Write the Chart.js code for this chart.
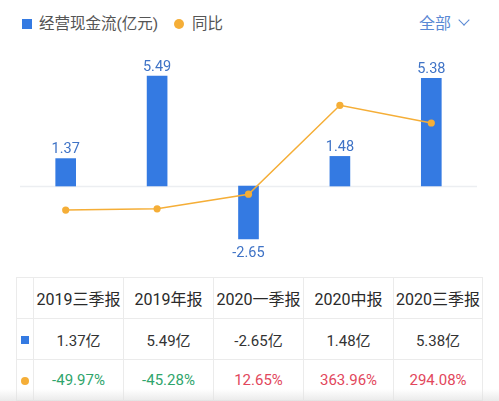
<!DOCTYPE html>
<html>
<head>
<meta charset="utf-8">
<script src="https://cdn.jsdelivr.net/npm/chart.js@4/dist/chart.umd.min.js"></script>
<style>
  html, body { margin: 0; padding: 0; background: #fff; }
  body { width: 499px; height: 401px; overflow: hidden; position: relative;
         font-family: Roboto, "Noto Sans CJK SC", sans-serif; }
  .abs { position: absolute; }
  #legSq { left: 22px; top: 19px; width: 10px; height: 10px; background: #347ae2; }
  #legT1 { left: 39px; top: 14px; font-size: 15.5px; line-height: 20px; color: #555; }
  #legDot { left: 174px; top: 19px; width: 10px; height: 10px; border-radius: 50%; background: #f5ae37; }
  #legT2 { left: 192px; top: 14px; font-size: 15.5px; line-height: 20px; color: #555; }
  #all { left: 419px; top: 13px; font-size: 16px; line-height: 22px; color: #5a89d4; }
  #chev { left: 460px; top: 16px; width: 7px; height: 7px; border-right: 1.6px solid #5a89d4;
          border-bottom: 1.6px solid #5a89d4; transform: rotate(45deg); }
  #chartBox { left: 0; top: 40px; width: 499px; height: 230px; }
  table { position: absolute; left: 16px; top: 277px; border-collapse: collapse; table-layout: fixed; }
  td { border: 1px solid #ebebeb; height: 40px; padding: 0; text-align: center; font-size: 15px; color: #333;
       white-space: nowrap; }
  tr.hd td { font-size: 16px; color: #2a2a2a; }
  .mk { display: inline-block; vertical-align: middle; }
  .up { color: #e2475c; }
  .down { color: #2fa56c; }
  #shade { left: 0; top: 389px; width: 499px; height: 12px;
           background: linear-gradient(rgba(240,240,240,0), rgba(225,225,225,0.7)); }
</style>
</head>
<body>
<div class="abs" id="legSq"></div>
<div class="abs" id="legT1">经营现金流(亿元)</div>
<div class="abs" id="legDot"></div>
<div class="abs" id="legT2">同比</div>
<div class="abs" id="all">全部</div>
<div class="abs" id="chev"></div>
<div class="abs" id="chartBox"><canvas id="c" width="499" height="230"></canvas></div>
<table id="tbl"></table>
<div class="abs" id="shade"></div>
<script>
const categories = ["2019三季报", "2019年报", "2020一季报", "2020中报", "2020三季报"];
const cashFlow = [1.37, 5.49, -2.65, 1.48, 5.38];
const yoy = [-49.97, -45.28, 12.65, 363.96, 294.08];
const cashFlowUnit = "亿";

const BAR_COLOR = "#347ae2";
const LINE_COLOR = "#f5ae37";

// table
(function () {
  const tbl = document.getElementById("tbl");
  const widths = [17, 90, 90, 90, 90, 89];
  let html = "<colgroup>" + widths.map(w => `<col style="width:${w}px">`).join("") + "</colgroup>";
  html += "<tr class=\"hd\"><td></td>" + categories.map(c => `<td>${c}</td>`).join("") + "</tr>";
  html += `<tr><td><span class="mk" style="width:8px;height:8px;background:${BAR_COLOR}"></span></td>` +
    cashFlow.map(v => `<td>${v.toFixed(2)}${cashFlowUnit}</td>`).join("") + "</tr>";
  html += `<tr><td><span class="mk" style="width:8px;height:8px;border-radius:50%;background:${LINE_COLOR}"></span></td>` +
    yoy.map(v => `<td class="${v >= 0 ? 'up' : 'down'}">${v.toFixed(2)}%</td>`).join("") + "</tr>";
  tbl.innerHTML = html;
})();

const zeroLine = {
  id: "zeroLine",
  beforeDatasetsDraw(chart) {
    const { ctx, chartArea, scales } = chart;
    const y = Math.round(scales.y.getPixelForValue(0)) + 0.5;
    ctx.save();
    ctx.strokeStyle = "#eceef1";
    ctx.lineWidth = 1.5;
    ctx.beginPath();
    ctx.moveTo(chartArea.left, y);
    ctx.lineTo(chartArea.right, y);
    ctx.stroke();
    ctx.restore();
  }
};

const barLabels = {
  id: "barLabels",
  afterDatasetsDraw(chart) {
    const { ctx } = chart;
    const meta = chart.getDatasetMeta(0);
    ctx.save();
    ctx.font = "14.5px Roboto";
    ctx.fillStyle = "#3f73c6";
    ctx.textAlign = "center";
    ctx.textBaseline = "alphabetic";
    meta.data.forEach((el, i) => {
      const v = cashFlow[i];
      const txt = v.toFixed(2);
      if (v >= 0) ctx.fillText(txt, el.x, el.y - 5.5);
      else ctx.fillText(txt, el.x, el.y + 18);
    });
    ctx.restore();
  }
};

new Chart(document.getElementById("c"), {
  data: {
    labels: categories,
    datasets: [
      {
        type: "bar",
        data: cashFlow,
        backgroundColor: BAR_COLOR,
        barThickness: 20,
        yAxisID: "y",
        order: 1
      },
      {
        type: "line",
        data: yoy,
        borderColor: LINE_COLOR,
        backgroundColor: LINE_COLOR,
        borderWidth: 1.5,
        pointRadius: 3.6,
        pointBorderWidth: 0,
        pointBackgroundColor: LINE_COLOR,
        tension: 0,
        yAxisID: "y1",
        order: 0
      }
    ]
  },
  options: {
    responsive: false,
    devicePixelRatio: 1,
    animation: false,
    layout: { padding: { left: 20, right: 22, top: 20, bottom: 10 } },
    plugins: { legend: { display: false }, tooltip: { enabled: false } },
    scales: {
      x: { display: false, offset: true },
      y: { display: false, min: -3.7, max: 6.3 },
      y1: { display: false, min: -247.4, max: 543.1 }
    }
  },
  plugins: [zeroLine, barLabels]
});
</script>
</body>
</html>
